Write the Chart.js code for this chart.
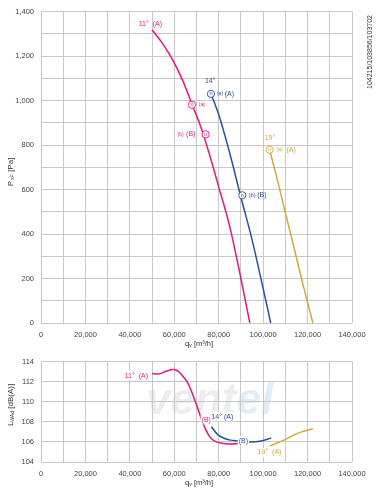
<!DOCTYPE html>
<html><head><meta charset="utf-8">
<script src="https://cdn.jsdelivr.net/npm/chart.js@4"></script>
<style>
html,body{margin:0;padding:0;background:#fff;width:379px;height:489px;overflow:hidden}
canvas{position:absolute;left:0}
#c1{top:0}
#c2{top:350px}
</style></head><body>
<canvas id="c1" width="379" height="350" style="width:379px;height:350px"></canvas>
<canvas id="c2" width="379" height="139" style="width:379px;height:139px"></canvas>
<script>
// ---------- data ----------
const qTickLabels = ['0','20,000','40,000','60,000','80,000','100,000','120,000','140,000'];
const pTickLabels = ['0','200','400','600','800','1,000','1,200','1,400'];
const lTickLabels = ['104','106','108','110','112','114'];

const q11P = [50000,55000,59500,64000,68000,72000,76000,80000,85000,90000,94000];
const p11  = [1318,1252,1178,1085,982,880,752,612,432,200,0];
const q14P = [76500,80000,85000,90000,95000,100000,103400];
const p14  = [1030,937,762,565,375,155,0];
const q19P = [103000,106000,110000,114000,118000,122400];
const p19  = [775,660,495,335,170,0];

const q11L = [50000,53000,56000,59500,62000,64000,66000,68000,70000,72000,74000,76000,78000,81000,85000,89000,92000];
const l11  = [112.8,112.75,113.0,113.2,113.0,112.5,111.9,110.9,109.7,108.4,107.3,106.5,106.1,105.9,105.8,105.85,106.0];
const q14L = [76700,79700,84900,89400,93900,99200,103700];
const l14  = [107.5,106.7,106.2,106.1,106.0,106.1,106.4];
const q19L = [103000,107000,110000,113000,116000,119000,122400];
const l19  = [105.6,105.95,106.25,106.6,106.9,107.1,107.3];

const PINK='#e5177f', BLUE='#2f4e9c', GOLD='#d2a83a';
const FONT='"Liberation Sans", Arial, sans-serif';

function pts(xs, ys){ return xs.map((x,i)=>({x:x,y:ys[i]})); }
function ds(xs, ys, c){ return {data:pts(xs,ys), borderColor:c, borderWidth:1.5, pointRadius:0, fill:false, tension:0.4, cubicInterpolationMode:'monotone'}; }

// label annotations in data coordinates
const topLabels = [
  {q:44000,v:1342,t:'11°  (A)',c:PINK,s:7},
  {q:67950,v:981,circ:true,c:PINK},
  {q:71000,v:981,t:'(a)',c:PINK,s:5},
  {q:61500,v:848,t:'(b)',c:PINK,s:5},
  {q:65300,v:848,t:'(B)',c:PINK,s:7},
  {q:74100,v:848,circ:true,c:PINK},
  {q:73800,v:1088,t:'14°',c:BLUE,s:7},
  {q:76500,v:1030,circ:true,c:BLUE},
  {q:79200,v:1030,t:'(a)',c:BLUE,s:5},
  {q:82700,v:1030,t:'(A)',c:BLUE,s:7},
  {q:90630,v:574,circ:true,c:BLUE},
  {q:93400,v:574,t:'(b)',c:BLUE,s:6},
  {q:97300,v:574,t:'(B)',c:BLUE,s:7},
  {q:100700,v:830,t:'19°',c:GOLD,s:7},
  {q:102915,v:779,circ:true,c:GOLD},
  {q:106000,v:779,t:'(a)',c:GOLD,s:5},
  {q:110500,v:779,t:'(A)',c:GOLD,s:7}
];
const botLabels = [
  {q:37700,v:112.6,t:'11°  (A)',c:PINK,s:7,bg:true},
  {q:72300,v:108.2,t:'(B)',c:PINK,s:7,bg:true},
  {q:76700,v:108.5,t:'14° (A)',c:BLUE,s:7,bg:true},
  {q:89000,v:106.1,t:'(B)',c:BLUE,s:7,bg:true},
  {q:97500,v:104.95,t:'19°  (A)',c:GOLD,s:7,bg:true}
];

function richText(ctx, parts, x, y, rot){
  ctx.save();
  ctx.translate(x,y);
  if(rot) ctx.rotate(-Math.PI/2);
  let w=0;
  parts.forEach(p=>{ctx.font=p.s+'px '+FONT; w+=ctx.measureText(p.t).width;});
  let cx=-w/2;
  ctx.fillStyle='#333';
  ctx.textBaseline='middle';
  parts.forEach(p=>{ctx.font=p.s+'px '+FONT; ctx.fillText(p.t,cx,(p.dy||0)); cx+=ctx.measureText(p.t).width;});
  ctx.restore();
}

function drawLabels(chart, list){
  const ctx=chart.ctx, xs=chart.scales.x, ys=chart.scales.y;
  list.forEach(l=>{
    const x=xs.getPixelForValue(l.q), y=ys.getPixelForValue(l.v);
    ctx.save();
    if(l.circ){
      ctx.beginPath(); ctx.arc(x,y,3.6,0,Math.PI*2);
      ctx.fillStyle='#fff'; ctx.fill();
      ctx.strokeStyle=l.c; ctx.lineWidth=0.9; ctx.stroke();
      ctx.fillStyle=l.c; ctx.font='5.5px '+FONT; ctx.textAlign='center'; ctx.textBaseline='middle';
      ctx.fillText('n',x,y);
    } else {
      ctx.font=l.s+'px '+FONT; ctx.textBaseline='middle'; ctx.textAlign='left';
      if(l.bg){ const w=ctx.measureText(l.t).width; ctx.fillStyle='#fff'; ctx.fillRect(x-1,y-4.5,w+2,9); }
      ctx.fillStyle=l.c; ctx.fillText(l.t,x,y);
    }
    ctx.restore();
  });
}

function xScale(){
  return {type:'linear', min:0, max:140000,
    ticks:{stepSize:10000, autoSkip:false, maxRotation:0, padding:7, color:'#444', font:{family:FONT,size:7.5},
      callback:(v)=> v%20000===0 ? qTickLabels[v/20000] : ''},
    grid:{color:'#c8c8c8', lineWidth:1, drawTicks:false},
    border:{display:false},
    afterFit:(s)=>{s.height=27;}};
}

const topPlugin={id:'topdeco',
  afterDatasetsDraw(chart){ drawLabels(chart, topLabels); },
  afterDraw(chart){
    const ctx=chart.ctx;
    richText(ctx,[{t:'P',s:8},{t:' sF',s:5,dy:2},{t:' [Pa]',s:8}],11,172,true);
    richText(ctx,[{t:'q',s:8},{t:'v',s:5,dy:2},{t:' [m³/h]',s:7.5}],199,344,false);
    ctx.save(); ctx.translate(370,52); ctx.rotate(-Math.PI/2);
    ctx.font='7px '+FONT; ctx.fillStyle='#333'; ctx.textAlign='center'; ctx.textBaseline='middle';
    ctx.fillText('104215/103856/103702',0,0); ctx.restore();
  }};

new Chart(document.getElementById('c1'),{
  type:'line',
  data:{datasets:[ds(q11P,p11,PINK), ds(q14P,p14,BLUE), ds(q19P,p19,GOLD)]},
  options:{responsive:false, animation:false, events:[],
    layout:{padding:{left:0,right:27,top:11,bottom:0}},
    plugins:{legend:{display:false}, tooltip:{enabled:false}},
    scales:{
      x:xScale(),
      y:{type:'linear', min:0, max:1400,
        ticks:{stepSize:100, autoSkip:false, padding:7, color:'#444', font:{family:FONT,size:7.5},
          callback:(v)=> v%200===0 ? pTickLabels[v/200] : ''},
        grid:{color:'#c8c8c8', lineWidth:1, drawTicks:false},
        border:{display:false},
        afterFit:(s)=>{s.width=41;}}
    }},
  plugins:[topPlugin]
});

const botPlugin={id:'botdeco',
  beforeDraw(chart){
    const ctx=chart.ctx;
    ctx.save();
    ctx.font='italic bold 44px '+FONT; ctx.textBaseline='alphabetic';
    ctx.fillStyle='rgba(200,200,200,0.32)'; ctx.fillText('vent',146,64);
    const w=ctx.measureText('vent').width;
    ctx.fillStyle='rgba(160,200,230,0.32)'; ctx.fillText('el',146+w,64);
    ctx.restore();
  },
  afterDatasetsDraw(chart){ drawLabels(chart, botLabels); },
  afterDraw(chart){
    const ctx=chart.ctx;
    richText(ctx,[{t:'L',s:8},{t:'WAd',s:5,dy:2},{t:' [dB(A)]',s:8}],11,55,true);
    richText(ctx,[{t:'q',s:8},{t:'v',s:5,dy:2},{t:' [m³/h]',s:7.5}],199,133,false);
  }};

new Chart(document.getElementById('c2'),{
  type:'line',
  data:{datasets:[ds(q11L,l11,PINK), ds(q14L,l14,BLUE), ds(q19L,l19,GOLD)]},
  options:{responsive:false, animation:false, events:[],
    layout:{padding:{left:0,right:27,top:7,bottom:0}},
    plugins:{legend:{display:false}, tooltip:{enabled:false}},
    scales:{
      x:xScale(),
      y:{type:'linear', min:104, max:114,
        ticks:{stepSize:2, autoSkip:false, padding:7, color:'#444', font:{family:FONT,size:7.5},
          callback:(v)=> lTickLabels[(v-104)/2]},
        grid:{color:'#c8c8c8', lineWidth:1, drawTicks:false},
        border:{display:false},
        afterFit:(s)=>{s.width=41;}}
    }},
  plugins:[botPlugin]
});
</script>
</body></html>
